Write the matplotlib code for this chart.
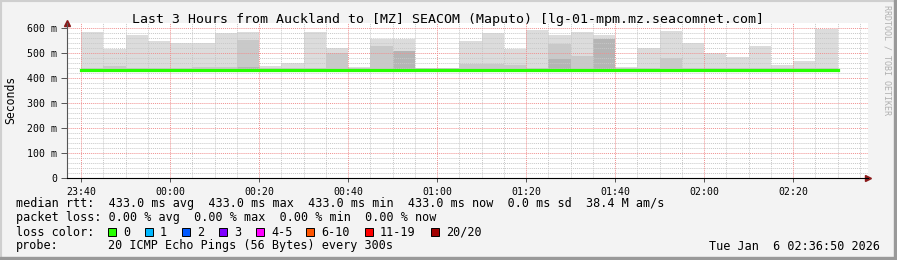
import numpy as np
import matplotlib
matplotlib.use('Agg')
import matplotlib.pyplot as plt
from matplotlib.patches import Rectangle

# smokeping style chart, 34 five-minute bins starting 23:40 (x in minutes from 23:40)
bin_start = [5 * i for i in range(34)]
rtt_max = [585, 519, 574, 549, 540, 540, 580, 585, 448, 462, 585, 521, 444, 558, 558, 443, 440,
           550, 582, 519, 594, 574, 585, 573, 445, 520, 590, 542, 500, 486, 530, 454, 470, 599]
rtt_mid = [442, 450, 441, 441, 441, 446, 446, 555, 441, 441, 441, 502, 440, 528, 441, 440, 440,
           456, 458, 453, 441, 538, 488, 441, 440, 441, 481, 441, 441, 441, 442, 440, 441, 441]
rtt_low = [433, 433, 433, 433, 433, 433, 433, 447, 433, 433, 433, 433, 433, 433, 509, 433, 433,
           433, 433, 433, 433, 477, 433, 558, 433, 433, 433, 433, 433, 433, 433, 433, 433, 433]
median_rtt = 433

xtick_pos = [0, 20, 40, 60, 80, 100, 120, 140, 160]
xtick_labels = ['23:40', '00:00', '00:20', '00:40', '01:00', '01:20', '01:40', '02:00', '02:20']
ytick_pos = [0, 100, 200, 300, 400, 500, 600]
ytick_labels = ['0', '100 m', '200 m', '300 m', '400 m', '500 m', '600 m']

loss_labels = ['0', '1', '2', '3', '4-5', '6-10', '11-19', '20/20']
loss_colors = ['#26ff00', '#00b8ff', '#0059ff', '#7e00ff', '#ff00ff', '#ff5500', '#ff0000', '#a10000']

W, H = 897, 260
mono = 'DejaVu Sans Mono'
plt.rcParams['font.family'] = mono

fig = plt.figure(figsize=(W / 100, H / 100), dpi=100)
fig.patch.set_facecolor('#f3f3f3')

def fx(x):
    return x / W

def fy(y):
    return 1 - y / H

x0, x1 = 67, 868
y_top, y_bot = 23.3, 178.3
ax = fig.add_axes([fx(x0), fy(y_bot), fx(x1) - fx(x0), fy(y_top) - fy(y_bot)])
ax.set_facecolor('white')
ax.set_xlim(-3.15, 176.85)
ax.set_ylim(0, 620)

base = median_rtt
ax.bar(bin_start, np.array(rtt_max) - base, bottom=base, width=5, align='edge', color='#dcdcdc', zorder=1)
ax.bar(bin_start, np.array(rtt_mid) - base, bottom=base, width=5, align='edge', color='#c9c9c9', zorder=1.1)
ax.bar(bin_start, np.array(rtt_low) - base, bottom=base, width=5, align='edge', color='#b5b5b5', zorder=1.2)

# grid on top of the smoke like rrdtool does
dot = (0, (1, 1))
for v in range(20, 620, 20):
    if v % 100:
        ax.axhline(v, color='#c8c8c8', lw=0.7, ls=dot, zorder=2)
for t in range(-0, 180, 5):
    if t % 20:
        ax.axvline(t, color='#c8c8c8', lw=0.7, ls=dot, zorder=2)
for v in range(100, 700, 100):
    ax.axhline(v, color='#f09090', lw=0.7, ls=dot, zorder=2.1)
for t in xtick_pos:
    ax.axvline(t, color='#f09090', lw=0.7, ls=dot, zorder=2.1)

ax.step(bin_start + [170], [median_rtt] * 35, where='post', color='#26ff00', lw=2.3, zorder=3)

for s in ['top', 'right']:
    ax.spines[s].set_visible(False)
ax.spines['left'].set_color('#555555')
ax.spines['bottom'].set_color('black')
ax.spines['left'].set_linewidth(0.8)
ax.spines['bottom'].set_linewidth(0.8)
ax.set_xticks(xtick_pos)
ax.set_xticklabels(xtick_labels, fontsize=7.1)
ax.set_yticks(ytick_pos)
ax.set_yticklabels(ytick_labels, fontsize=7.1)
ax.tick_params(axis='y', length=4, width=0.7, pad=3, colors='#555555', labelcolor='black')
ax.tick_params(axis='x', length=3, width=0.7, pad=3, colors='#555555', labelcolor='black')

# axis arrows
ax.plot([0], [1.0], marker='^', color='#8b1a1a', ms=4, transform=ax.transAxes, clip_on=False)
ax.plot([1.0], [0], marker='>', color='#8b1a1a', ms=4, transform=ax.transAxes, clip_on=False)

fig.text(fx(448), fy(19), 'Last 3 Hours from Auckland to [MZ] SEACOM (Maputo) [lg-01-mpm.mz.seacomnet.com]',
         ha='center', va='center', fontsize=9.5)
fig.text(fx(11), fy(100), 'Seconds', rotation=90, ha='center', va='center', fontsize=8.3)
fig.text(fx(887), fy(5), 'RRDTOOL / TOBI OETIKER', rotation=270, ha='center', va='top',
         fontsize=6, color='#b0b0b0')

fs = 8.5
fig.text(fx(16), fy(204), 'median rtt:  433.0 ms avg  433.0 ms max  433.0 ms min  433.0 ms now  0.0 ms sd  38.4 M am/s',
         ha='left', va='center', fontsize=fs)
fig.text(fx(16), fy(218), 'packet loss: 0.00 % avg  0.00 % max  0.00 % min  0.00 % now',
         ha='left', va='center', fontsize=fs)
fig.text(fx(16), fy(232), 'loss color:', ha='left', va='center', fontsize=fs)
fig.text(fx(16), fy(246), 'probe:', ha='left', va='center', fontsize=fs)
fig.text(fx(108), fy(246), '20 ICMP Echo Pings (56 Bytes) every 300s', ha='left', va='center', fontsize=fs)
fig.text(fx(880), fy(246), 'Tue Jan  6 02:36:50 2026', ha='right', va='center', fontsize=fs)

sq_x = [108, 145, 182, 219, 256, 306, 365, 431]
for sx, lab, col in zip(sq_x, loss_labels, loss_colors):
    fig.patches.append(Rectangle((fx(sx), fy(236)), fx(8), 8 / H, transform=fig.transFigure,
                                 facecolor=col, edgecolor='black', lw=0.7))
    fig.text(fx(sx + 15), fy(232), lab, ha='left', va='center', fontsize=fs)

# bevelled frame
fig.patches.append(Rectangle((0, 0), 1, 1, transform=fig.transFigure, fill=False,
                             edgecolor='#cfcfcf', lw=3))
fig.patches.append(Rectangle((0, 0), fx(897), 3 / H, transform=fig.transFigure, color='#999999'))
fig.patches.append(Rectangle((1 - 3 / W, 0), 3 / W, 1, transform=fig.transFigure, color='#999999'))

fig.savefig('out.png', dpi=100, facecolor=fig.get_facecolor())
